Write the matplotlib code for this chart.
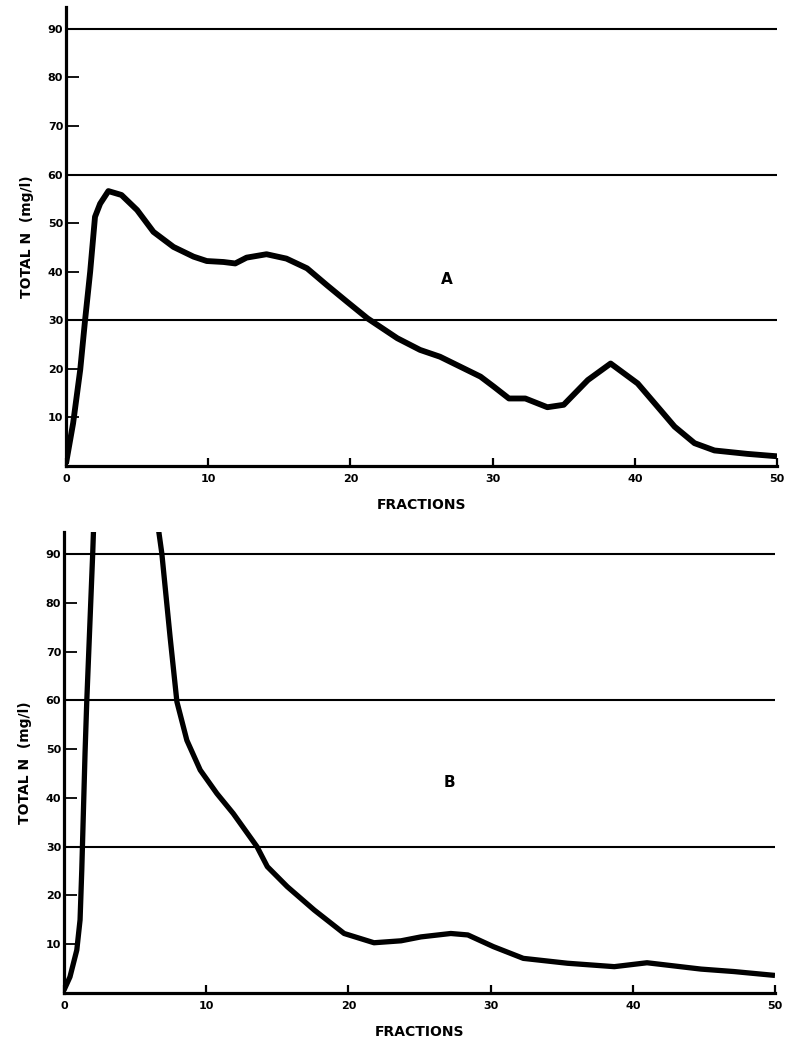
import matplotlib
matplotlib.use("Agg")
import matplotlib.pyplot as plt

# ---- data ----
x_ticks = [0, 10, 20, 30, 40, 50]
y_ticks = [10, 20, 30, 40, 50, 60, 70, 80, 90]
ref_lines = [30, 60, 90]

a_x = [0, 0.5, 1.0, 1.34, 1.7, 2.04, 2.4, 2.98, 3.9, 5.0, 6.15, 7.56, 8.97, 9.9,
       11.08, 11.9, 12.7, 14.1, 15.5, 16.95, 18.36, 19.77, 21.2, 23.3, 24.9,
       26.3, 29.15, 30.1, 31.15, 32.3, 33.85, 35.0, 36.7, 38.3, 40.2, 41.4,
       42.8, 44.2, 45.6, 47.9, 50.0]
a_y = [0.5, 8.8, 19.8, 30.0, 40.0, 51.3, 54.0, 56.6, 55.8, 52.7, 48.2, 45.1, 43.1, 42.2,
       42.0, 41.7, 42.9, 43.6, 42.7, 40.7, 37.2, 33.8, 30.4, 26.3, 23.9,
       22.5, 18.4, 16.3, 13.9, 13.9, 12.1, 12.6, 17.7, 21.1, 17.0, 12.9,
       8.1, 4.7, 3.2, 2.5, 2.0]

b_rise_x = [0, 0.42, 0.9, 1.13, 1.25, 1.48, 1.6, 1.83, 2.02, 2.1]
b_rise_y = [0.6, 3.3, 8.8, 15.0, 25.2, 49.2, 59.7, 76.4, 90.2, 97.0]

b_fall_x = [6.55, 6.88, 7.46, 7.94, 8.64, 9.58, 10.75, 11.9, 13.57, 14.3, 15.7,
            17.6, 19.7, 21.8, 23.7, 25.1, 27.2, 28.4, 30.2, 32.3, 35.4, 38.7,
            41.0, 44.8, 47.1, 50.0]
b_fall_y = [97.0, 90.1, 73.0, 59.7, 51.8, 45.7, 40.9, 36.8, 30.0, 25.9, 21.8,
            17.0, 12.2, 10.3, 10.7, 11.5, 12.2, 11.9, 9.5, 7.1, 6.1, 5.4,
            6.2, 4.9, 4.4, 3.6]

ylabel = "TOTAL N  (mg/l)"
xlabel = "FRACTIONS"

fig = plt.figure(figsize=(7.87, 10.43), dpi=100)
axA = fig.add_axes([66/787, 1-466/1043, 711/787, 459/1043])
axB = fig.add_axes([64/787, 1-993/1043, 711/787, 461/1043])


def style(ax):
    ax.set_xlim(0, 50)
    ax.set_ylim(0, 94.5)
    for s in ("top", "right"):
        ax.spines[s].set_visible(False)
    for s in ("left", "bottom"):
        ax.spines[s].set_linewidth(2.3)
        ax.spines[s].set_color("black")
    ax.set_xticks(x_ticks)
    ax.set_xticklabels([str(v) for v in x_ticks], fontsize=8, fontweight="bold")
    ax.set_yticks(y_ticks)
    ax.set_yticklabels([str(v) for v in y_ticks], fontsize=8, fontweight="bold")
    ax.tick_params(axis="y", direction="in", length=9, width=1.3, pad=2)
    ax.tick_params(axis="x", direction="in", length=6, width=1.6, pad=6)
    for v in ref_lines:
        ax.axhline(v, color="black", lw=1.5, zorder=1)
    ax.set_ylabel(ylabel, fontsize=10, fontweight="bold", labelpad=10)
    ax.set_xlabel(xlabel, fontsize=10, fontweight="bold", labelpad=10)


style(axA)
style(axB)

axA.plot(a_x, a_y, color="black", lw=4.2, solid_joinstyle="round",
         solid_capstyle="butt", zorder=3)
axA.text(26.8, 38.5, "A", fontsize=11, fontweight="bold", ha="center", va="center")

axB.plot(b_rise_x, b_rise_y, color="black", lw=3.8, solid_joinstyle="round",
         solid_capstyle="butt", zorder=3)
axB.plot(b_fall_x, b_fall_y, color="black", lw=3.8, solid_joinstyle="round",
         solid_capstyle="butt", zorder=3)
axB.text(27.1, 43.2, "B", fontsize=11, fontweight="bold", ha="center", va="center")

fig.savefig("out.png", dpi=100)
